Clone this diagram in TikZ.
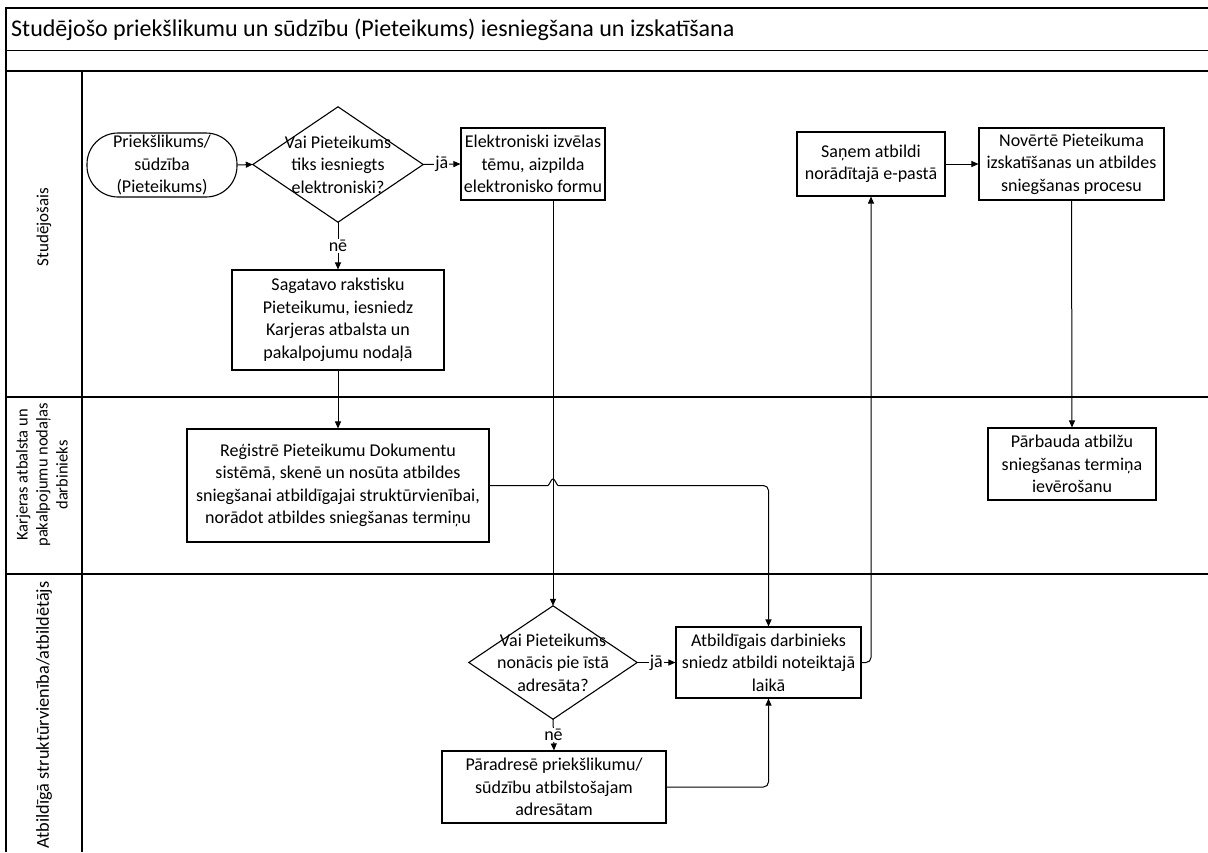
\documentclass[tikz,border=0pt]{standalone}
\usepackage{fontspec}
\setmainfont{Carlito}
\usetikzlibrary{arrows.meta,calc}
\tikzset{
  frame/.style={line width=1.5pt, black},
  box/.style={draw, line width=1.1pt, rectangle, inner sep=0pt, align=center,
    font=\fontsize{18}{22.5}\selectfont},
  dtext/.style={rectangle, inner sep=0pt, align=center,
    font=\fontsize{18}{22.5}\selectfont},
  conn/.style={line width=1pt, -{Triangle[length=7pt,width=6pt]}},
  lbl/.style={fill=white, inner sep=1pt, font=\fontsize{18}{20}\selectfont},
  lane/.style={rotate=90, align=center, font=\fontsize{17}{20}\selectfont},
}
\begin{document}
\begin{tikzpicture}[x=1pt,y=-1pt]
\useasboundingbox (0,0) rectangle (1208,852);
% frame
\draw[frame] (1208,8) -- (6,8) -- (6,852);
\draw[frame] (6,50.5) -- (1208,50.5);
\draw[frame] (6,71) -- (1208,71);
\draw[frame] (82,71) -- (82,852);
\draw[frame] (6,397) -- (1208,397);
\draw[frame] (6,574) -- (1208,574);
\node[anchor=west, inner sep=0pt, font=\fontsize{24}{28}\selectfont] (title) at (11,29.5)
  {Studējošo priekšlikumu un sūdzību (Pieteikums) iesniegšana un izskatīšana};
% lane labels
\node[lane] (l1) at (44,227) {Studējošais};
\node[lane, font=\fontsize{16.5}{20}\selectfont] (l2) at (42,475) {Karjeras atbalsta un\\ pakalpojumu nodaļas\\ darbinieks};
\node[lane, font=\fontsize{18.3}{21}\selectfont] (l3) at (44,715) {Atbildīgā struktūrvienība/atbildētājs};
% nodes
\node[box, minimum width=150pt, minimum height=64pt, rounded corners=31pt] (start) at (162,165)
  {Priekšlikums/\\ sūdzība\\ (Pieteikums)};
\node[dtext, minimum width=170pt, minimum height=115pt] (d1) at (338,164.5)
  {Vai Pieteikums\\ tiks iesniegts\\ elektroniski?};
\draw[line width=1.1pt] (d1.north) -- (d1.east) -- (d1.south) -- (d1.west) -- cycle;
\node[box, minimum width=144pt, minimum height=72pt] (el) at (533,164)
  {Elektroniski izvēlas\\ tēmu, aizpilda\\ elektronisko formu};
\node[box, minimum width=212pt, minimum height=100pt] (sag) at (338,320)
  {Sagatavo rakstisku\\ Pieteikumu, iesniedz\\ Karjeras atbalsta un\\ pakalpojumu nodaļā};
\node[box, minimum width=302pt, minimum height=113pt] (reg) at (338,485.5)
  {Reģistrē Pieteikumu Dokumentu\\ sistēmā, skenē un nosūta atbildes\\ sniegšanai atbildīgajai struktūrvienībai,\\ norādot atbildes sniegšanas termiņu};
\node[box, minimum width=148pt, minimum height=64pt] (san) at (871,164)
  {Saņem atbildi\\ norādītajā e-pastā};
\node[box, minimum width=185pt, minimum height=72pt] (nov) at (1071.5,164)
  {Novērtē Pieteikuma\\ izskatīšanas un atbildes\\ sniegšanas procesu};
\node[box, minimum width=168pt, minimum height=72pt] (par) at (1072,464)
  {Pārbauda atbilžu\\ sniegšanas termiņa\\ ievērošanu};
\node[dtext, minimum width=168pt, minimum height=113pt] (d2) at (553,662.5)
  {Vai Pieteikums\\ nonācis pie īstā\\ adresāta?};
\draw[line width=1.1pt] (d2.north) -- (d2.east) -- (d2.south) -- (d2.west) -- cycle;
\node[box, minimum width=185pt, minimum height=71pt] (atb) at (768.5,662.5)
  {Atbildīgais darbinieks\\ sniedz atbildi noteiktajā\\ laikā};
\node[box, minimum width=224pt, minimum height=72pt] (pa) at (554,787)
  {Pāradresē priekšlikumu/\\ sūdzību atbilstošajam\\ adresātam};
% connectors
\draw[conn] (start.east) -- (d1.west);
\draw[conn] (d1.east) -- node[lbl] (ja1) {jā} (el.west);
\draw[conn] (d1.south) -- node[lbl] (ne1) {nē} (sag.north);
\draw[conn] (sag.south) -- (reg.north);
\draw[conn] (el.south -| d2.north) -- (d2.north);
\draw[conn] (reg.east) -- (548,485.5) .. controls (550,484) and (551,479) .. (553,479)
  .. controls (555,479) and (556,484) .. (558,485.5)
  [rounded corners=5pt] -| (atb.north);
\draw[conn] (d2.east) -- node[lbl] (ja2) {jā} (atb.west);
\draw[conn] (d2.south) -- node[lbl] (ne2) {nē} (pa.north);
\draw[conn, rounded corners=5pt] (pa.east) -| (atb.south);
\draw[conn, rounded corners=5pt] (atb.east) -| (san.south);
\draw[conn] (san.east) -- (nov.west);
\draw[conn] (nov.south) -- (par.north);
\end{tikzpicture}
\end{document}
